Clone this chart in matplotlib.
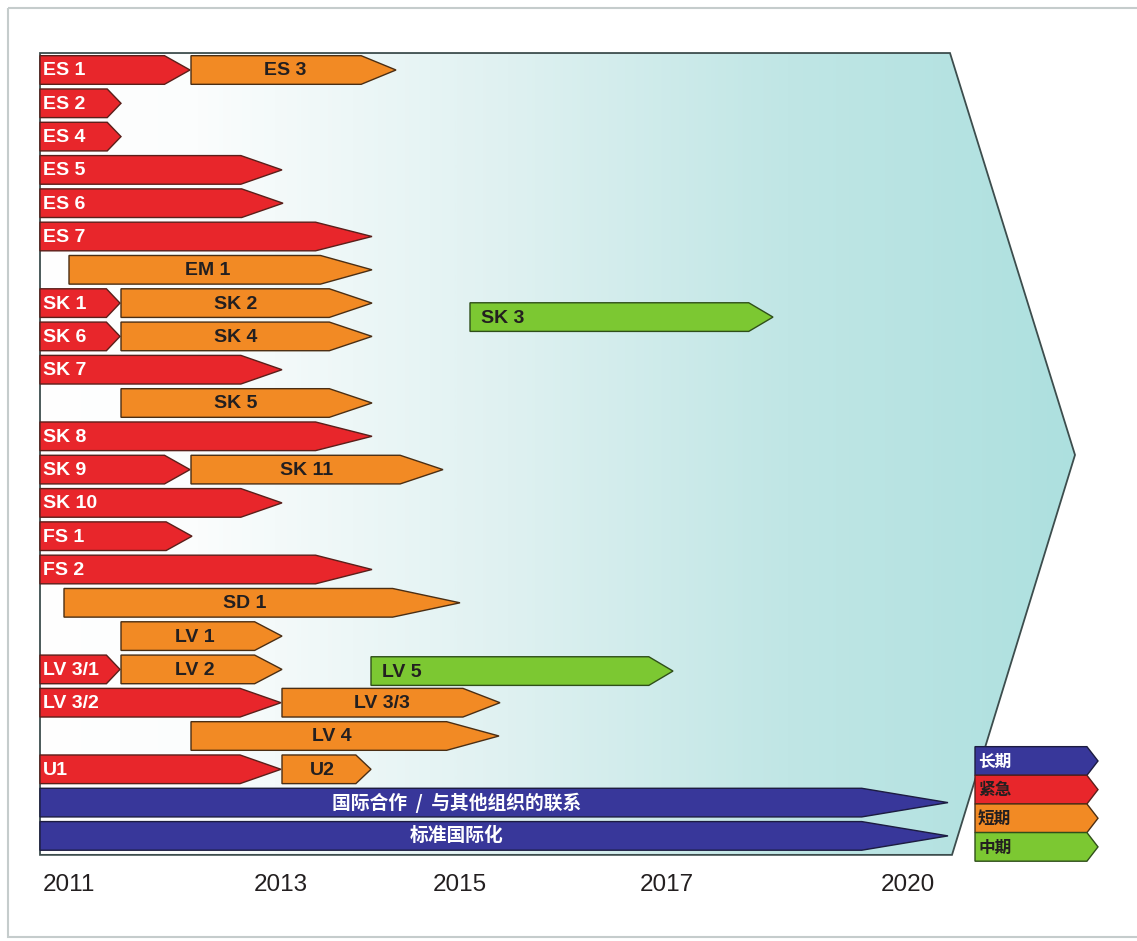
import matplotlib.pyplot as plt
import numpy as np
from matplotlib.patches import Polygon, Rectangle
from matplotlib.colors import LinearSegmentedColormap

# Timeline units: 0 = start of 2011, roughly one unit per year (schematic roadmap)
# Each task: label, row, start, end (arrow tip)
urgent_labels = ["ES 1", "ES 2", "ES 4", "ES 5", "ES 6", "ES 7", "SK 1", "SK 6", "SK 7",
                 "SK 8", "SK 9", "SK 10", "FS 1", "FS 2", "LV 3/1", "LV 3/2", "U1"]
urgent_rows = [0, 1, 2, 3, 4, 5, 7, 8, 9, 11, 12, 13, 14, 15, 18, 19, 21]
urgent_start = [0.0] * 17
urgent_end = [1.50, 0.81, 0.81, 2.42, 2.43, 3.32, 0.80, 0.80, 2.42,
              3.32, 1.50, 2.42, 1.52, 3.32, 0.80, 2.41, 2.41]

short_labels = ["ES 3", "EM 1", "SK 2", "SK 4", "SK 5", "SK 11", "SD 1",
                "LV 1", "LV 2", "LV 3/3", "LV 4", "U2"]
short_rows = [0, 6, 7, 8, 10, 12, 16, 17, 18, 19, 20, 21]
short_start = [1.51, 0.29, 0.81, 0.81, 0.81, 1.51, 0.24, 0.81, 0.81, 2.42, 1.51, 2.42]
short_end = [3.56, 3.32, 3.32, 3.32, 3.32, 4.03, 4.20, 2.42, 2.42, 4.60, 4.59, 3.31]

mid_labels = ["SK 3", "LV 5"]
mid_rows = [7.42, 18.05]
mid_start = [4.30, 3.31]
mid_end = [7.33, 6.33]

long_labels = ["国际合作  /  与其他组织的联系", "标准国际化"]
long_rows = [22, 23]
long_start = [0.0, 0.0]
long_end = [9.08, 9.08]

year_labels = ["2011", "2013", "2015", "2017", "2020"]
year_pos = [0.03, 2.41, 4.20, 6.27, 8.68]

legend_labels = ["长期", "紧急", "短期", "中期"]

# styles
C_RED = "#e8262b"
C_ORANGE = "#f28a24"
C_GREEN = "#7cc832"
C_BLUE = "#38379a"
BAR_H = 0.86
CJK = ["Noto Sans CJK SC", "DejaVu Sans"]
LAT = ["Liberation Sans", "Noto Sans CJK SC"]


def arrow(ax, row, x0, x1, color, tip_frac, edge="#3b2a22", h=BAR_H, z=3):
    tip = tip_frac * (x1 - x0)
    pts = [(x0, row - h / 2), (x1 - tip, row - h / 2), (x1, row),
           (x1 - tip, row + h / 2), (x0, row + h / 2)]
    ax.add_patch(Polygon(pts, closed=True, fc=color, ec=edge, lw=1.0, zorder=z,
                         joinstyle="miter"))
    return tip


def main():
    fig = plt.figure(figsize=(11.37, 9.41), dpi=100)
    ax = fig.add_axes([0, 0, 1, 1])
    px = 100.0   # pixels per timeline unit
    py = 33.3    # pixels per row
    ax.axis("off")

    # outer light frame
    ax.add_patch(Rectangle((-32 / px, -62 / py), 1200 / px, 929 / py, fill=False,
                           ec="#c5cccc", lw=1.5, zorder=0))

    # background arrow with gradient
    bg = [(0, -0.51), (9.10, -0.51), (10.35, 11.56), (9.12, 23.57), (0, 23.57)]
    bg_patch = Polygon(bg, closed=True, fc="none", ec="#3d4d4d", lw=1.3, zorder=2)
    cmap = LinearSegmentedColormap.from_list(
        "bgteal", [(0, "#ffffff"), (0.15, "#fbfdfd"), (0.45, "#dff1f1"),
                   (0.72, "#c0e6e5"), (1.0, "#ade0df")])
    grad = np.linspace(0, 1, 512).reshape(1, -1)
    im = ax.imshow(grad, cmap=cmap, aspect="auto", interpolation="bilinear",
                   extent=(0, 10.4, 23.6, -0.6), zorder=1)
    clip = Polygon(bg, closed=True, transform=ax.transData)
    im.set_clip_path(clip)
    ax.add_patch(bg_patch)
    ax.set_xlim(-40 / px, (1137 - 40) / px)
    ax.set_ylim((941 - 70) / py, -70 / py)

    # urgent (red)
    for lab, r, s, e in zip(urgent_labels, urgent_rows, urgent_start, urgent_end):
        arrow(ax, r, s, e, C_RED, 0.17, edge="#5a1f1a")
        ax.text(s + 0.03, r + 0.03, lab, color="white", fontsize=14, fontweight="bold",
                family=LAT, ha="left", va="center", zorder=5)

    # short term (orange)
    for lab, r, s, e in zip(short_labels, short_rows, short_start, short_end):
        tip = arrow(ax, r, s, e, C_ORANGE, 0.17, edge="#4a2e14")
        ax.text((s + e - tip / 2) / 2, r + 0.03, lab, color="#231f20", fontsize=14,
                fontweight="bold", family=LAT, ha="center", va="center", zorder=5)

    # mid term (green)
    for lab, r, s, e in zip(mid_labels, mid_rows, mid_start, mid_end):
        arrow(ax, r, s, e, C_GREEN, 0.08, edge="#2f4f1a")
        ax.text(s + 0.11, r + 0.03, lab, color="#231f20", fontsize=14, fontweight="bold",
                family=LAT, ha="left", va="center", zorder=5)

    # long term (blue)
    for lab, r, s, e in zip(long_labels, long_rows, long_start, long_end):
        tip = arrow(ax, r, s, e, C_BLUE, 0.095, edge="#1c1c40")
        ax.text((s + e - tip) / 2 + 0.06, r, lab, color="white", fontsize=13.5,
                fontweight="bold", family=CJK, ha="center", va="center", zorder=5)

    # year labels
    for i, (lab, x) in enumerate(zip(year_labels, year_pos)):
        ax.text(x, 24.48, lab, fontsize=17.5, color="#231f20", family=LAT,
                ha="left" if i == 0 else "center", va="center")

    # legend
    leg_colors = [C_BLUE, C_RED, C_ORANGE, C_GREEN]
    leg_text = ["white", "#231f20", "#231f20", "#231f20"]
    leg_edges = ["#1c1c40", "#5a1f1a", "#4a2e14", "#2f4f1a"]
    for i, lab in enumerate(legend_labels):
        r = 20.75 + i * 0.86
        arrow(ax, r, 9.35, 10.58, leg_colors[i], 0.09, edge=leg_edges[i], h=0.86, z=4)
        ax.text(9.38, r + 0.02, lab, color=leg_text[i], fontsize=12, fontweight="bold",
                family=CJK, ha="left", va="center", zorder=6)

    fig.savefig("out.png", dpi=100, facecolor="white")


if __name__ == "__main__":
    main()
